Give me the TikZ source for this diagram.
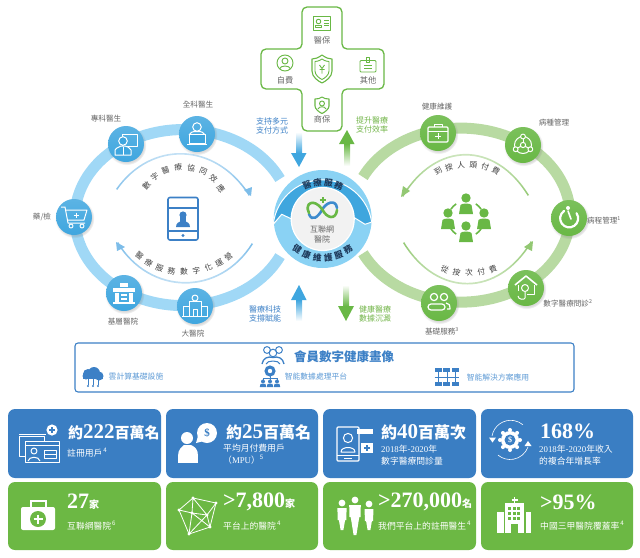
\documentclass[tikz,border=0pt]{standalone}
\usepackage{fontspec}
\setmainfont{Noto Sans CJK TC}
\newfontfamily\numfont{Liberation Serif}
\usetikzlibrary{shadows}

\definecolor{ringblue}{HTML}{A0D8F6}
\definecolor{ringgreen}{HTML}{B8DAA2}
\definecolor{hubblue}{HTML}{3FA6DF}
\definecolor{hubgreen}{HTML}{69B845}
\definecolor{diskblue}{HTML}{3FA6DE}
\definecolor{disklight}{HTML}{8AD2F4}
\definecolor{boxblue}{HTML}{3A7EC3}
\definecolor{boxgreen}{HTML}{6CB844}
\definecolor{labelblue}{HTML}{3C80C6}
\definecolor{labelgreen}{HTML}{73B54A}
\definecolor{stripblue}{HTML}{5E9BD6}
\definecolor{greytext}{HTML}{666666}
\definecolor{navytext}{HTML}{1E3A5C}
\definecolor{arcblue}{HTML}{7DBDE9}
\definecolor{arcgreen}{HTML}{93C873}

% cx, cy, rx, ry, first angle, angle step, characters
\newcommand{\arctext}[8][arcchar]{%
    \foreach \ch [count=\i from 0] in {#8} {
        \pgfmathsetmacro{\ang}{#6+\i*#7}
        \pgfmathsetmacro{\px}{#2+#4*cos(\ang)}
        \pgfmathsetmacro{\py}{#3+#5*sin(\ang)}
        \pgfmathsetmacro{\rot}{0.8*((sin(\ang)<0 ? -90 : 90)-\ang)}
        \node[#1, rotate=\rot] (ch\i) at (\px,\py) {\ch};
    }
}

\begin{document}
\begin{tikzpicture}[
        x=1pt, y=-1pt,
        % Anillos
        ringleft/.style={draw=ringblue, line width=11pt},
        ringright/.style={draw=ringgreen, line width=11pt},
        % Nodos sobre los anillos
        hubleft/.style={
                circle,
                minimum size=36pt,
                inner sep=0pt,
                top color=hubblue!85!white,
                bottom color=hubblue,
                circular drop shadow={shadow xshift=0.6pt, shadow yshift=-1.2pt, opacity=0.3}
            },
        hubright/.style={hubleft, top color=hubgreen!88!white, bottom color=hubgreen},
        ico/.style={draw=white, line width=1pt, line join=round},
        icofill/.style={fill=white, draw=none},
        % Textos
        hublabel/.style={font=\fontsize{7.6}{9}\selectfont, text=greytext, inner sep=0pt},
        crosslabel/.style={font=\fontsize{8.2}{9}\selectfont, text=greytext, inner sep=0pt},
        sidelabel/.style={font=\fontsize{8}{9.6}\selectfont, inner sep=0pt, align=center},
        arcchar/.style={font=\fontsize{7.8}{8}\selectfont, text=black!75, inner sep=0pt},
        diskchar/.style={font=\fontsize{8.6}{9}\selectfont\bfseries, text=navytext, inner sep=0pt},
        striplabel/.style={font=\fontsize{7.8}{9}\selectfont, text=stripblue, inner sep=0pt},
        % Cajas de datos
        statbox/.style={rounded corners=7pt, draw=none},
        stattitle/.style={anchor=west, inner sep=0pt, text=white, font=\fontsize{16}{18}\selectfont\bfseries},
        statsub/.style={anchor=west, inner sep=0pt, text=white, font=\fontsize{8.8}{11.5}\selectfont, align=left},
        crossicon/.style={draw=hubgreen, line width=0.9pt, line join=round},
        stripicon/.style={draw=labelblue, line width=1pt, line join=round}
    ]
    \useasboundingbox (0,0) rectangle (640,557);

    % Anillos
    \draw[ringleft] (280,179) arc[start angle=-26, end angle=-334, x radius=108, y radius=88];
    \draw[ringright] (363,177) arc[start angle=-154, end angle=154, x radius=109, y radius=87];

    % Arcos interiores
    \shade[top color=arcblue!30!white, bottom color=arcblue]
        (116,189) .. controls (150,140) and (215,140) .. (250,195) -- (248.7,195.8) .. controls (214.5,141.9) and (150.5,141.9) .. (117.3,189.8) -- cycle;
    \fill[arcblue] (251,196) -- (252,187) -- (244,190) -- cycle;
    \shade[top color=arcblue, bottom color=arcblue!30!white]
        (253,244) .. controls (220,297) and (150,297) .. (117,243) -- (118.3,242.2) .. controls (150.5,295) and (219.5,295) .. (251.7,243.2) -- cycle;
    \fill[arcblue] (116,242) -- (125,247) -- (117,251) -- cycle;
    \shade[top color=arcgreen!30!white, bottom color=arcgreen]
        (529,195) .. controls (495,140) and (436,140) .. (402,196) -- (403.3,196.8) .. controls (436.5,142) and (494.5,142) .. (527.7,195.8) -- cycle;
    \fill[arcgreen] (401,197) -- (410,191) -- (403,186) -- cycle;
    \shade[top color=arcgreen, bottom color=arcgreen!30!white]
        (403,243) .. controls (437,298.5) and (498,298.5) .. (532,242) -- (530.7,241.2) .. controls (497.5,296.5) and (437.5,296.5) .. (404.3,242.2) -- cycle;
    \fill[arcgreen] (533,241) -- (532,251) -- (524,247) -- cycle;

    \arctext{183}{205}{42}{38}{-150}{17.8}{數,字,醫,療,協,同,效,應}
    \arctext{184}{228}{58}{44}{140}{-12.5}{醫,療,服,務,數,字,化,運,營}
    \arctext{467}{195}{48}{30}{-127}{14.8}{到,按,人,頭,付,費}
    \arctext{469}{243}{48}{30}{120}{-15}{從,按,次,付,費}

    % Nodos izquierda
    \node[hubleft] (quanke) at (197,134) {};
    \node[hubleft] (zhuanke) at (126,144) {};
    \node[hubleft] (yaojian) at (74,217) {};
    \node[hubleft] (jiceng) at (124,293) {};
    \node[hubleft] (dayiyuan) at (195,306) {};
    \node[hublabel] (lquanke) at (198,105) {全科醫生};
    \node[hublabel] (lzhuanke) at (106,119) {專科醫生};
    \node[hublabel] (lyaojian) at (42,217) {藥/檢};
    \node[hublabel] (ljiceng) at (123,322) {基層醫院};
    \node[hublabel] (ldayiyuan) at (193,334) {大醫院};

    % Nodos derecha
    \node[hubright] (weihu) at (438,133) {};
    \node[hubright] (bingzhong) at (523,145) {};
    \node[hubright] (bingcheng) at (569,218) {};
    \node[hubright] (wenzhen) at (526,288) {};
    \node[hubright] (jichu) at (439,303) {};
    \node[hublabel] (lweihu) at (437,107) {健康維護};
    \node[hublabel] (lbingzhong) at (554,123) {病種管理};
    \node[hublabel] (lbingcheng) at (604,220) {病程管理\textsuperscript{1}};
    \node[hublabel] (lwenzhen) at (568,303) {數字醫療問診\textsuperscript{2}};
    \node[hublabel] (ljichu) at (442,331) {基礎服務\textsuperscript{3}};

    % Iconos izquierda
    \begin{scope}[shift={(197,134)}]
        \draw[ico] (0,-7) circle (4.3);
        \draw[ico] (-8,1) .. controls (-7,-2) and (-4,-2) .. (-3,-2.5) -- (3,-2.5) .. controls (4,-2) and (7,-2) .. (8,1);
        \draw[ico, fill=hubblue] (-8,0) rectangle (8,9);
        \draw[ico] (-10,10) -- (10,10);
    \end{scope}
    \begin{scope}[shift={(126,144)}]
        \draw[ico] (-4,-10) rectangle (11,2);
        \draw[ico, fill=hubblue] (-3,-3) circle (4.3);
        \draw[ico, fill=hubblue] (-11,11) -- (-11,6) .. controls (-9,3) and (-6,3) .. (-5,2) -- (-1,2) .. controls (1,3) and (4,3) .. (5,6) -- (5,11) -- cycle;
        \draw[ico] (-3,3) -- (-3,11);
    \end{scope}
    \begin{scope}[shift={(74,217)}]
        \draw[ico] (-13,-10) -- (-9,-10) -- (-6,6) -- (11,6);
        \draw[ico] (-8,-7) -- (13,-7) -- (10,3) -- (-6,3);
        \draw[ico] (2,-4.5) -- (2,0.5) (-0.5,-2) -- (4.5,-2);
        \draw[ico] (-3,9) circle (2);
        \draw[ico] (8,9) circle (2);
    \end{scope}
    \begin{scope}[shift={(124,293)}]
        \fill[white] (-4,-10) rectangle (4,-6);
        \fill[white] (-11,-5) rectangle (11,-1);
        \fill[white] (-9,0) rectangle (-5,10);
        \fill[white] (5,0) rectangle (9,10);
        \fill[white] (-3,1) rectangle (3,3);
        \fill[white] (-3,4.5) rectangle (3,6.5);
        \fill[white] (-11,9) rectangle (11,11);
    \end{scope}
    \begin{scope}[shift={(195,306)}]
        \draw[ico] (-6,-5) rectangle (6,10);
        \draw[ico] (-12,0) rectangle (-6,10);
        \draw[ico] (6,0) rectangle (12,10);
        \draw[ico] (0,-8) circle (3);
        \draw[ico] (-2,3) rectangle (2,10);
        \draw[ico] (-13,10.5) -- (13,10.5);
    \end{scope}

    % Iconos derecha
    \begin{scope}[shift={(438,133)}]
        \draw[ico, line width=1.1pt, rounded corners=1pt] (-10,-6) rectangle (10,9);
        \draw[ico] (-4,-6) -- (-4,-9) -- (4,-9) -- (4,-6);
        \draw[ico] (-10,-2) -- (10,-2);
        \draw[ico] (0,0) -- (0,6) (-3,3) -- (3,3);
    \end{scope}
    \begin{scope}[shift={(523,145)}]
        \draw[ico] (0,0) circle (8.5);
        \foreach \a in {-90,30,150} {
            \draw[ico] (0,0) -- (\a:8.5);
            \draw[ico, fill=hubgreen] (\a:8.5) circle (2.4);
        }
        \draw[ico, fill=hubgreen] (0,0) circle (2.6);
    \end{scope}
    \begin{scope}[shift={(569,218)}]
        \draw[white, line width=2.2pt, line cap=round] (-5,-7) arc[start angle=-125, end angle=-395, radius=9];
        \draw[white, line width=1.6pt, line cap=round] (2,1) -- (-1,-7);
        \fill[white] (-1,-10) circle (2);
    \end{scope}
    \begin{scope}[shift={(526,288)}]
        \draw[ico, line width=1.6pt] (-11,-3) -- (0,-12) -- (11,-3);
        \draw[ico] (-8,-3) -- (-8,3) (8,-3) -- (8,6) -- (1,6);
        \draw[ico] (-1,0) circle (3.5);
        \draw[ico] (-1,4) -- (-1,10) .. controls (-1,12) and (-8,12) .. (-8,8);
    \end{scope}
    \begin{scope}[shift={(439,303)}]
        \draw[ico, line width=1.2pt] (-5,-6) circle (3.6);
        \draw[ico, line width=1.2pt] (5,-6) circle (3.6);
        \draw[ico, line width=1.2pt, rounded corners=3pt] (-11,7) rectangle (6,1);
        \draw[ico, line width=1.2pt] (7,0) .. controls (10,0) and (11,2) .. (11,6) -- (8,6);
    \end{scope}

    % Icono central izquierda
    \draw[draw=labelblue, line width=1.6pt, rounded corners=2pt] (168,197.5) rectangle (198,240);
    \draw[draw=labelblue, line width=1.4pt] (168,208) -- (198,208) (168,231) -- (198,231);
    \fill[labelblue] (183,215) circle (3.6);
    \fill[labelblue] (180,216) rectangle (186,222);
    \fill[labelblue] (176,227) .. controls (176,223) and (179,222) .. (181,221) -- (185,221) .. controls (187,222) and (190,223) .. (190,227) -- cycle;
    \fill[labelblue] (183,235.5) circle (1.6);

    % Icono central derecha
    \foreach \gx/\gy in {466/205, 448/220, 484/220, 466/233} {
        \fill[hubgreen] (\gx,\gy-7) circle (4.7);
        \fill[hubgreen] (\gx-7,\gy+9) -- (\gx-5.5,\gy) .. controls (\gx-4,\gy-2) and (\gx+4,\gy-2) .. (\gx+5.5,\gy) -- (\gx+7,\gy+9) -- cycle;
    }
    \foreach \a in {-45,45,135,225} {
        \draw[hubgreen, line width=1.6pt] (466,219) ++(\a-12:18) arc[start angle=\a-12, end angle=\a+12, radius=18];
    }

    % Disco central
    \fill[disklight] (322.7,219) circle (49);
    \draw[fill=diskblue, draw=white, line width=1pt]
        (273.3,224.3) arc[start angle=186, end angle=351.4, radius=49.6]
        -- (365,224.3) -- (351.7,216) -- (292.3,219.3) -- (281.7,214.3) -- cycle;
    \draw[fill=gray!10, draw=white, line width=1.2pt] (322.7,219) circle (31.5);
    \arctext[diskchar]{322.7}{219}{37}{37}{-115}{17}{醫,療,服,務}
    \arctext[diskchar]{322.7}{219}{39.5}{39.5}{130}{-16}{健,康,維,護,服,務}
    \draw[labelblue!70!hubblue, line width=2.6pt, line cap=round] (309,214) .. controls (312,222) and (318,217) .. (322,210) .. controls (326,202) and (336,199) .. (337,208);
    \draw[hubgreen, line width=2.6pt, line cap=round] (309,213) .. controls (304,203) and (314,198) .. (322,209) .. controls (327,219) and (336,220) .. (337,210);
    \draw[hubgreen, line width=1.8pt] (322.7,197) -- (322.7,203) (319.7,200) -- (325.7,200);
    \node[font=\fontsize{8}{10}\selectfont, text=greytext, align=center, inner sep=0pt] (logotext) at (322,234) {互聯網\\醫院};

    % Flechas verticales
    \shade[top color=white, bottom color=hubblue] (296,132) rectangle (302,153);
    \fill[hubblue] (291,153) -- (306.5,153) -- (299,167) -- cycle;
    \shade[top color=hubgreen, bottom color=white] (344,144) rectangle (350,166);
    \fill[hubgreen] (339,144) -- (354.5,144) -- (347,130) -- cycle;
    \shade[top color=hubblue, bottom color=white] (296,300) rectangle (302,321);
    \fill[hubblue] (291,300) -- (306.5,300) -- (299,285) -- cycle;
    \shade[top color=white, bottom color=hubgreen] (343,285) rectangle (349,306);
    \fill[hubgreen] (338,306) -- (354,306) -- (346,321) -- cycle;

    \node[sidelabel, text=labelblue] (zhifu) at (272,126) {支持多元\\支付方式};
    \node[sidelabel, text=labelgreen] (tisheng) at (372,125) {提升醫療\\支付效率};
    \node[sidelabel, text=labelblue] (keji) at (265,314) {醫療科技\\支撐賦能};
    \node[sidelabel, text=labelgreen] (shuju) at (375,314) {健康醫療\\數據沉澱};

    % Cruz
    \draw[draw=hubgreen, line width=1.3pt, fill=white, rounded corners=5pt]
        (302,7) -- (342,7) -- (342,49) -- (384,49) -- (384,89) -- (342,89) -- (342,131) -- (302,131) -- (302,89) -- (261,89) -- (261,49) -- (302,49) -- cycle;
    \node[crosslabel] (yibao) at (322,40) {醫保};
    \node[crosslabel] (zifei) at (285,80) {自費};
    \node[crosslabel] (qita) at (368,80) {其他};
    \node[crosslabel] (shangbao) at (322,119) {商保};
    \begin{scope}[shift={(322,23)}]
        \draw[crossicon] (-8.5,-7) rectangle (8.5,7);
        \draw[crossicon] (-3.5,-1.5) circle (2.3);
        \draw[crossicon] (-6.5,4.5) -- (-6.5,2.5) -- (-0.5,2.5) -- (-0.5,4.5) -- cycle;
        \draw[crossicon] (2,-2.5) -- (6.5,-2.5) (2,0) -- (6.5,0) (2,2.5) -- (6.5,2.5);
    \end{scope}
    \begin{scope}[shift={(285,63)}]
        \draw[crossicon] (0,0) circle (8);
        \draw[crossicon] (0,-2) circle (3);
        \draw[crossicon] (-5.5,6) .. controls (-5,2) and (5,2) .. (5.5,6);
    \end{scope}
    \begin{scope}[shift={(322,69)}]
        \draw[crossicon, line width=1.1pt] (0,-14) .. controls (-4,-11) and (-7,-10) .. (-10,-10) -- (-10,2) .. controls (-10,8) and (-4,12) .. (0,14) .. controls (4,12) and (10,8) .. (10,2) -- (10,-10) .. controls (7,-10) and (4,-11) .. (0,-14) -- cycle;
        \draw[crossicon] (0,-10) .. controls (-3,-8) and (-5,-7.5) .. (-7,-7.5) -- (-7,2) .. controls (-7,6) and (-3,9) .. (0,10.5) .. controls (3,9) and (7,6) .. (7,2) -- (7,-7.5) .. controls (5,-7.5) and (3,-8) .. (0,-10) -- cycle;
        \draw[crossicon] (-2.5,-4) -- (0,-0.5) -- (2.5,-4) (0,-0.5) -- (0,4.5) (-2.5,0.5) -- (2.5,0.5);
    \end{scope}
    \begin{scope}[shift={(368,65)}]
        \draw[crossicon, rounded corners=1pt] (-8,-4.5) rectangle (8,7);
        \draw[crossicon] (-1.5,-7.5) rectangle (1.5,-2.5);
        \draw[crossicon] (-4,0) -- (4,0) (-4,3) -- (4,3);
    \end{scope}
    \begin{scope}[shift={(322,105)}]
        \draw[crossicon, line width=1.1pt] (0,-8) .. controls (-2,-6.5) and (-4,-6) .. (-7,-6) -- (-7,1) .. controls (-7,4) and (-3,7) .. (0,8.5) .. controls (3,7) and (7,4) .. (7,1) -- (7,-6) .. controls (4,-6) and (2,-6.5) .. (0,-8) -- cycle;
        \draw[crossicon] (0,-1.5) circle (2.5);
        \draw[crossicon] (-4,4) .. controls (-3,1) and (3,1) .. (4,4);
    \end{scope}

    % Franja
    \draw[draw=labelblue, line width=1.1pt, fill=white, rounded corners=3pt] (75,343) rectangle (574,392);
    \node[font=\fontsize{12.5}{14}\selectfont\bfseries, text=labelblue, inner sep=0pt] (huaxiang) at (344,357) {會員數字健康畫像};
    \node[striplabel] (yun) at (136,377) {雲計算基礎設施};
    \node[striplabel] (pingtai) at (316,377) {智能數據處理平台};
    \node[striplabel] (jiejue) at (498,377) {智能解決方案應用};
    % personas
    \begin{scope}[shift={(273,356)}]
        \draw[stripicon] (-6,-6) circle (3.4);
        \draw[stripicon] (6,-6) circle (3.4);
        \draw[stripicon] (0,-3) circle (3.8);
        \draw[stripicon, line width=1.3pt] (-11,8) .. controls (-10,2) and (-5,0) .. (0,1.5) .. controls (5,0) and (10,2) .. (11,8);
        \draw[stripicon] (-7,8) .. controls (-6,4) and (6,4) .. (7,8);
    \end{scope}
    % nube
    \begin{scope}[shift={(93,377)}]
        \fill[labelblue] (-5,-3) circle (5);
        \fill[labelblue] (1,-4) circle (6);
        \fill[labelblue] (6,-1) circle (4.5);
        \fill[labelblue] (-7,-1) circle (3.5);
        \fill[labelblue] (-10,-2) rectangle (10,2);
        \draw[labelblue, line width=0.8pt] (-5,2) -- (-5,8) (0,2) -- (0,8) (5,2) -- (5,8);
        \fill[labelblue] (-5,9) circle (1.1);
        \fill[labelblue] (0,9) circle (1.1);
        \fill[labelblue] (5,9) circle (1.1);
    \end{scope}
    % plataforma
    \begin{scope}[shift={(270,377)}]
        \fill[labelblue] (0,-6) circle (5.6);
        \fill[white] (0,-6) circle (2.2);
        \draw[labelblue, line width=0.8pt] (-7,3) -- (-7,1) -- (7,1) -- (7,3) (0,-1) -- (0,3);
        \foreach \bx in {-7,0,7} {
            \fill[labelblue] (\bx,4.5) circle (2);
            \fill[labelblue] (\bx-3.2,10) -- (\bx-2.4,6.8) -- (\bx+2.4,6.8) -- (\bx+3.2,10) -- cycle;
        }
    \end{scope}
    % esquema
    \begin{scope}[shift={(447,377)}]
        \foreach \bx in {-12.5,-4,4.5} {
            \fill[labelblue] (\bx,-9) rectangle (\bx+7,-5.5);
            \fill[labelblue] (\bx,5) rectangle (\bx+7,9);
        }
        \draw[labelblue, line width=0.8pt] (-9,-5.5) -- (-9,5) (0,-5.5) -- (0,5) (8,-5.5) -- (8,5) (-12.5,0) -- (11.5,0);
    \end{scope}

    % Cajas de datos
    \fill[statbox, boxblue] (8,409) rectangle (161,478);
    \fill[statbox, boxblue] (166,409) rectangle (318,478);
    \fill[statbox, boxblue] (323,409) rectangle (476,478);
    \fill[statbox, boxblue] (481,409) rectangle (633,478);
    \fill[statbox, boxgreen] (8,482) rectangle (161,550);
    \fill[statbox, boxgreen] (166,482) rectangle (318,550);
    \fill[statbox, boxgreen] (323,482) rectangle (476,550);
    \fill[statbox, boxgreen] (481,482) rectangle (633,550);

    \node[stattitle, font=\fontsize{15}{18}\selectfont\bfseries] (t1) at (68,432) {約{\fontsize{21}{21}\selectfont\numfont\bfseries 222}百萬名};
    \node[statsub] (s1) at (67,453) {註冊用戶\textsuperscript{\,4}};
    \node[stattitle] (t2) at (226,432) {約{\fontsize{21}{21}\selectfont\numfont\bfseries 25}百萬名};
    \node[statsub] (s2) at (223,454) {平均月付費用戶\\（{\numfont MPU}）\textsuperscript{5}};
    \node[stattitle] (t3) at (381,432) {約{\fontsize{21}{21}\selectfont\numfont\bfseries 40}百萬次};
    \node[statsub] (s3) at (381,455) {{\numfont 2018}年-{\numfont 2020}年\\數字醫療問診量};
    \node[stattitle] (t4) at (540,431) {\fontsize{22}{22}\selectfont\numfont\bfseries 168\%};
    \node[statsub] (s4) at (539,455) {{\numfont 2018}年-{\numfont 2020}年收入\\的複合年增長率};
    \node[stattitle] (t5) at (67,502) {{\fontsize{22}{22}\selectfont\numfont\bfseries 27}{\fontsize{10}{12}\selectfont 家}};
    \node[statsub] (s5) at (67,526) {互聯網醫院\textsuperscript{\,6}};
    \node[stattitle] (t6) at (223,502) {{\fontsize{22}{22}\selectfont\numfont\bfseries >7,800}{\fontsize{10}{12}\selectfont 家}};
    \node[statsub] (s6) at (223,526) {平台上的醫院\textsuperscript{\,4}};
    \node[stattitle] (t7) at (378,502) {{\fontsize{22}{22}\selectfont\numfont\bfseries >270,000}{\fontsize{10}{12}\selectfont 名}};
    \node[statsub] (s7) at (378,526) {我們平台上的註冊醫生\textsuperscript{\,4}};
    \node[stattitle] (t8) at (540,502) {\fontsize{22}{22}\selectfont\numfont\bfseries >95\%};
    \node[statsub] (s8) at (540,526) {中國三甲醫院覆蓋率\textsuperscript{\,4}};

    % Icono caja 1
    \draw[ico] (19,434) -- (46,434);
    \draw[ico] (19,436) rectangle (44,456);
    \draw[ico, fill=boxblue] (25,441) rectangle (59,462);
    \draw[ico] (25,445) -- (59,445);
    \draw[ico] (34,451) circle (3);
    \draw[ico] (28,461) .. controls (29,456) and (39,456) .. (40,461);
    \draw[ico] (44,450) rectangle (56,458) (44,454) -- (56,454);
    \fill[white] (52,430) circle (5.6);
    \draw[boxblue, line width=1.2pt] (49,430) -- (55,430) (52,427) -- (52,433);
    % Icono caja 2
    \fill[white] (187,438) circle (6);
    \fill[white] (178,463) rectangle (198,455);
    \fill[white] (178,456) .. controls (178,449) and (182,447) .. (184,445) -- (191,445) .. controls (195,447) and (198,449) .. (198,456) -- cycle;
    \fill[white] (207,433) circle (10);
    \fill[white] (198,436) -- (196,443) -- (204,441) -- cycle;
    \node[text=boxblue, font=\fontsize{11}{11}\selectfont\bfseries\numfont, inner sep=0pt] (dollar) at (207,433) {\$};
    % Icono caja 3
    \draw[ico, line width=1.2pt, rounded corners=1pt] (337,427) rectangle (359,461);
    \draw[ico] (337,455) -- (359,455) (344,458) -- (352,458);
    \draw[ico] (348,438) circle (4.6);
    \draw[ico] (341,452) .. controls (341,446) and (355,446) .. (355,452) -- cycle;
    \fill[white] (357,429) rectangle (373,434);
    \fill[white] (361,443) rectangle (373,453);
    \draw[boxblue, line width=1.4pt] (367,445) -- (367,451) (364,448) -- (370,448);
    % Icono caja 4
    \foreach \a in {0,45,...,315} {
        \fill[white] (510,440) ++(\a:10) circle (2);
    }
    \fill[white] (510,440) circle (9);
    \fill[boxblue] (510,440) circle (5.5);
    \node[text=white, font=\fontsize{8}{8}\selectfont\bfseries\numfont, inner sep=0pt] (dollarb) at (510,440) {\$};
    \draw[white, line width=0.6pt] (492,436) arc[start angle=-170, end angle=-50, radius=19];
    \draw[white, line width=0.6pt] (528,447) arc[start angle=20, end angle=130, radius=19];
    \fill[white] (489,437.5) -- (496,437.5) -- (492.5,442.5) -- cycle;
    \fill[white] (524.5,446) -- (531.5,446) -- (528,441) -- cycle;
    % Icono caja 5
    \draw[draw=white, line width=1.6pt] (31,508) -- (31,501) -- (46,501) -- (46,508);
    \fill[white, rounded corners=2pt] (21,507) rectangle (55,530);
    \fill[boxgreen] (38,519) circle (8);
    \draw[white, line width=2pt] (33.5,519) -- (42.5,519) (38,514.5) -- (38,523.5);
    % Icono caja 6
    \begin{scope}[draw=white, line width=0.8pt]
        \coordinate (m1) at (193,498);
        \coordinate (m2) at (216,503);
        \coordinate (m3) at (179,510);
        \coordinate (m4) at (192,513);
        \coordinate (m5) at (207,515);
        \coordinate (m6) at (210,527);
        \coordinate (m7) at (189,534);
        \draw (m1) -- (m2) -- (m6) -- (m7) -- (m3) -- cycle;
        \draw (m1) -- (m4) -- (m3) (m4) -- (m5) -- (m2) (m1) -- (m5) -- (m6) (m4) -- (m7) (m5) -- (m7) (m4) -- (m6);
        \foreach \m in {m1,m2,m3,m4,m5,m6,m7} {
            \fill[white] (\m) circle (1.6);
        }
    \end{scope}
    % Icono caja 7
    \foreach \dx/\dy/\dw/\dh in {342/503/4.6/27, 369/504/4.4/26, 355/500/5.8/35} {
        \fill[white] (\dx,\dy) circle (3.4);
        \fill[white] (\dx-\dw,\dy+5) -- (\dx+\dw,\dy+5) -- (\dx+\dw-0.3,\dy+17) -- (\dx+\dw-1.5,\dy+17) -- (\dx+1.4,\dy+\dh) -- (\dx-1.4,\dy+\dh) -- (\dx-\dw+1.5,\dy+17) -- (\dx-\dw+0.3,\dy+17) -- cycle;
    }
    % Icono caja 8
    \fill[white] (505,503) rectangle (524,533);
    \fill[white] (497,512) rectangle (503.5,533);
    \fill[white] (525.5,512) rectangle (531,533);
    \draw[white, line width=1.5pt] (514.5,497) -- (514.5,503) (511.5,500) -- (517.5,500);
    \foreach \wx in {508,512.5,517} {
        \foreach \wy in {507,512,517} {
            \fill[boxgreen] (\wx,\wy) rectangle ++(3,3);
        }
    }
    \fill[boxgreen] (511,524) rectangle (518,533);
\end{tikzpicture}
\end{document}
